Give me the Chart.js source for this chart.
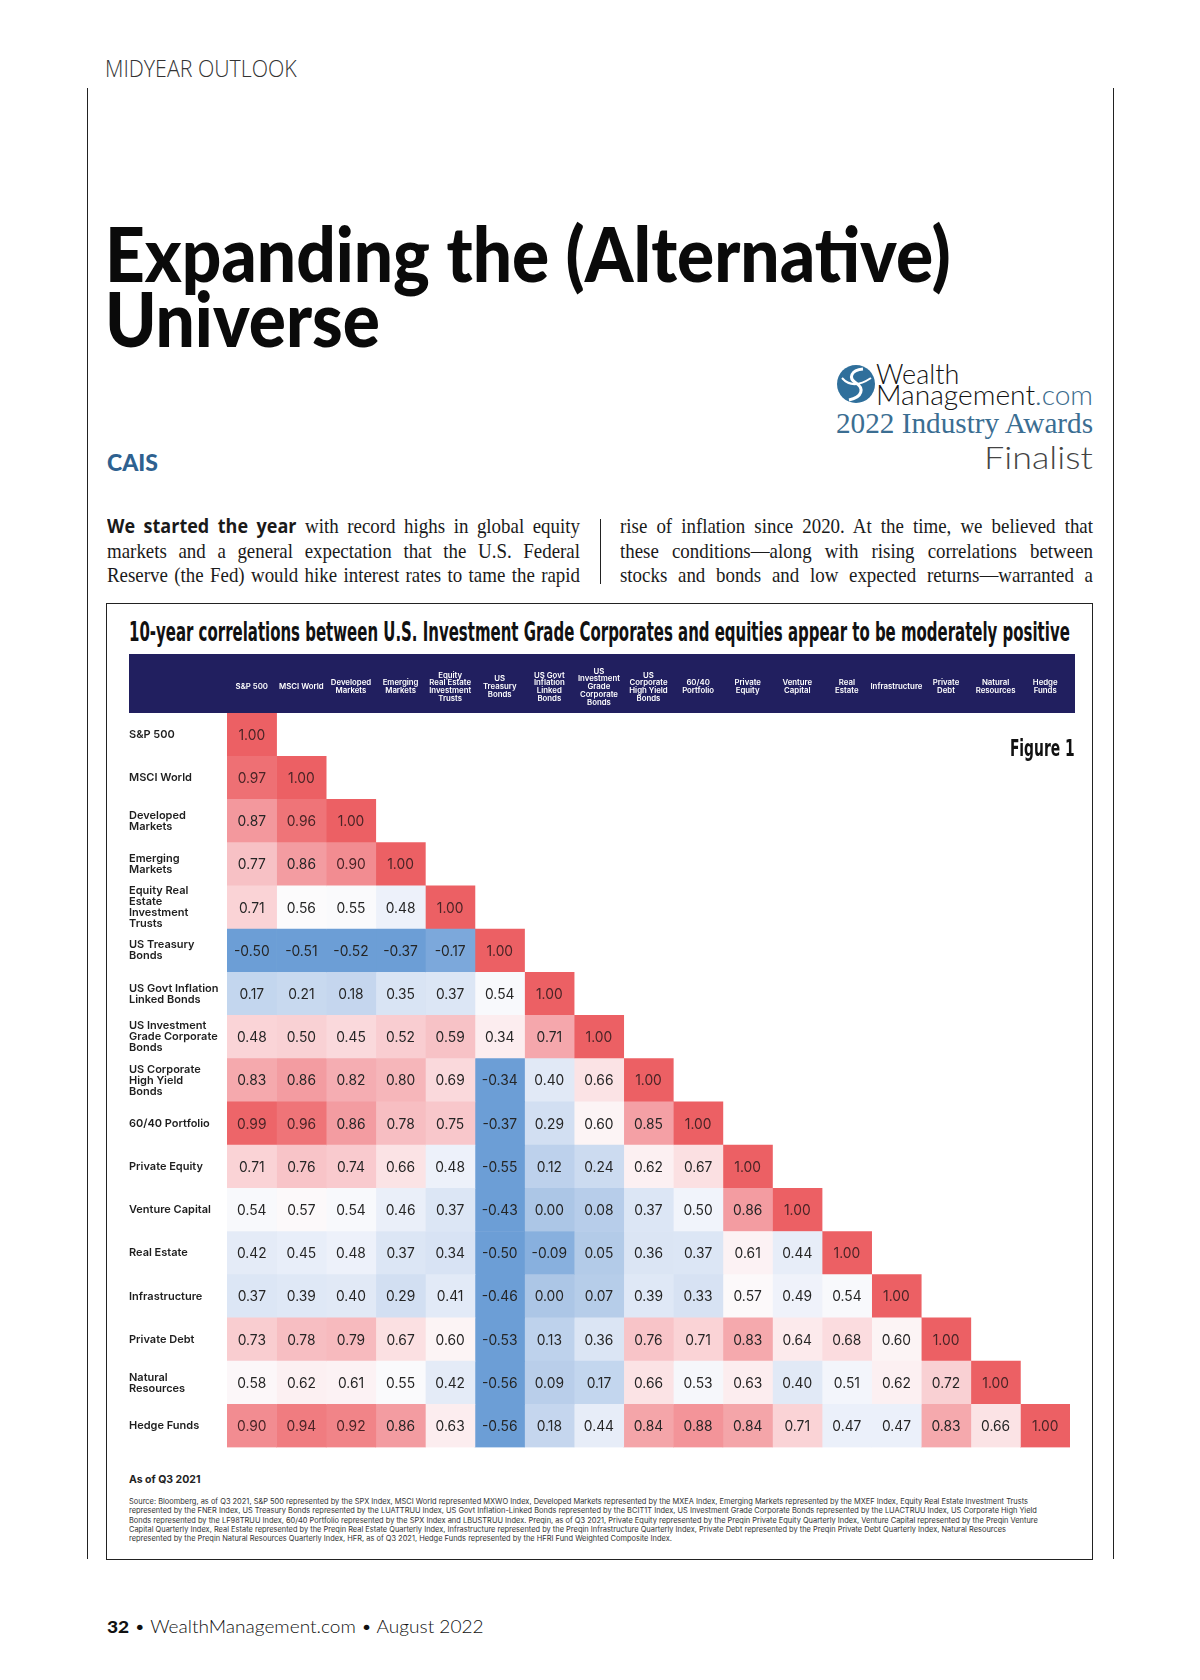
<!DOCTYPE html>
<html>
<head>
<meta charset="utf-8">
<script src="https://cdn.jsdelivr.net/npm/chart.js@4.4.1/dist/chart.umd.min.js"></script>
<style>
  body { margin: 0; background: #fff; }
  #page { position: relative; width: 1200px; height: 1680px; overflow: hidden; background: #fff; color: #111; }
  .abs { position: absolute; white-space: nowrap; line-height: 1; }
  .fit { transform-origin: left top; }
  .fitr { transform-origin: right top; }
  .vline { position: absolute; width: 1px; background: #222; }
  .col { position: absolute; top: 514px; font-family: "Liberation Serif", serif; font-size: 21px; line-height: 24.6px; color: #1a1a1a; transform-origin: left top; }
  .ln { text-align: justify; text-align-last: justify; white-space: nowrap; display: inline-block; }
  .lead { font-family: "Open Sans", sans-serif; font-weight: 700; font-size: 20px; }
  .src { position: absolute; left: 129px; top: 1497px; font-family: Inter, sans-serif; font-size: 7.6px; line-height: 9.25px; color: #333; transform-origin: left top; }
  .src div { white-space: nowrap; }
</style>
</head>
<body>
<div id="page">
  <div class="abs fit" data-w="192" style="left:105px;top:56px;font-family:'Open Sans',sans-serif;font-weight:300;font-size:24px;color:#333;">MIDYEAR OUTLOOK</div>

  <div class="vline" style="left:87px;top:88px;height:1471px;"></div>
  <div class="vline" style="left:1113px;top:88px;height:1471px;"></div>

  <div id="t1" class="abs fit" data-w="846" style="left:105px;top:215px;font-family:Lato,sans-serif;font-weight:900;font-size:76px;color:#0a0a0a;">Expanding the (Alternative)</div>
  <div id="t2" class="abs fit" style="left:105px;top:280px;font-family:Lato,sans-serif;font-weight:900;font-size:76px;color:#0a0a0a;">Universe</div>

  <div class="abs" style="left:107px;top:451px;font-family:Lato,sans-serif;font-weight:900;font-size:23px;color:#2e6190;">CAIS</div>

  <svg class="abs" style="left:836px;top:363px" width="40" height="42" viewBox="0 0 40 42">
    <circle cx="20" cy="21" r="19" fill="#2f6f9b"/>
    <path d="M27 6 C15 7 12 15 20 20 C28 25 27 34 13 37" stroke="#fff" stroke-width="3" fill="none"/>
    <path d="M6 15 C13 23 23 23 35 15" stroke="#fff" stroke-width="2" fill="none"/>
  </svg>
  <div class="abs fit" data-w="83" style="left:876px;top:360px;font-family:Lato,sans-serif;font-weight:300;font-size:27px;color:#111;">Wealth</div>
  <div class="abs fit" data-w="217" style="left:876px;top:381px;font-family:Lato,sans-serif;font-weight:300;font-size:27px;color:#111;">Management<span style="color:#3b6b8c">.com</span></div>
  <div class="abs fitr" data-w="257" style="right:107px;top:409px;font-family:'Liberation Serif',serif;font-size:29px;color:#3b6e92;">2022 Industry Awards</div>
  <div class="abs fitr" data-w="109" style="right:107px;top:442px;font-family:Lato,sans-serif;font-weight:300;font-size:31px;color:#444;">Finalist</div>

  <div class="col" id="col1" data-w="473" style="left:107px;">
    <div class="ln"><span class="lead">We started the year</span> with record highs in global equity</div>
    <div class="ln">markets and a general expectation that the U.S. Federal</div>
    <div class="ln">Reserve (the Fed) would hike interest rates to tame the rapid</div>
  </div>
  <div class="vline" style="left:600px;top:519px;height:65px;"></div>
  <div class="col" id="col2" data-w="473" style="left:620px;">
    <div class="ln">rise of inflation since 2020. At the time, we believed that</div>
    <div class="ln">these conditions—along with rising correlations between</div>
    <div class="ln">stocks and bonds and low expected returns—warranted a</div>
  </div>

  <div style="position:absolute;left:106px;top:603px;width:987px;height:957px;border:1px solid #222;box-sizing:border-box;"></div>
  <div class="abs fit" data-w="941" style="left:129px;top:619px;font-family:'DejaVu Sans Condensed','DejaVu Sans',sans-serif;font-weight:700;font-size:26px;color:#111;">10-year correlations between U.S. Investment Grade Corporates and equities appear to be moderately positive</div>

  <div style="position:absolute;left:129px;top:654px;width:946px;height:799px;">
    <canvas id="chart" width="946" height="799"></canvas>
  </div>

  <div class="abs fitr" data-w="65" style="right:125px;top:737px;font-family:'DejaVu Sans Condensed','DejaVu Sans',sans-serif;font-weight:700;font-size:23px;color:#111;">Figure 1</div>

  <div class="abs" style="left:129px;top:1475px;font-family:Inter,sans-serif;font-weight:700;font-size:10.5px;color:#222;">As of Q3 2021</div>
  <div class="src" id="src" data-w="909">
    <div>Source: Bloomberg, as of Q3 2021, S&amp;P 500 represented by the SPX Index, MSCI World represented MXWO Index, Developed Markets represented by the MXEA Index, Emerging Markets represented by the MXEF Index, Equity Real Estate Investment Trusts</div>
    <div>represented by the FNER Index, US Treasury Bonds represented by the LUATTRUU Index, US Govt Inflation-Linked Bonds represented by the BCIT1T Index, US Investment Grade Corporate Bonds represented by the LUACTRUU Index, US Corporate High Yield</div>
    <div>Bonds represented by the LF98TRUU Index, 60/40 Portfolio represented by the SPX Index and LBUSTRUU Index. Preqin, as of Q3 2021, Private Equity represented by the Preqin Private Equity Quarterly Index, Venture Capital represented by the Preqin Venture</div>
    <div>Capital Quarterly Index, Real Estate represented by the Preqin Real Estate Quarterly Index, Infrastructure represented by the Preqin Infrastructure Quarterly Index, Private Debt represented by the Preqin Private Debt Quarterly Index, Natural Resources</div>
    <div>represented by the Preqin Natural Resources Quarterly Index, HFR, as of Q3 2021, Hedge Funds represented by the HFRI Fund Weighted Composite Index.</div>
  </div>

  <div class="abs fit" data-w="377" style="left:107px;top:1618px;font-family:Lato,sans-serif;font-weight:300;font-size:17px;color:#111;"><b style="font-weight:900">32</b> • WealthManagement.com • August 2022</div>
</div>

<script>
// asset classes, used for both axes
const colLabels = [
  "S&P 500", "MSCI World", ["Developed", "Markets"], ["Emerging", "Markets"],
  ["Equity", "Real Estate", "Investment", "Trusts"], ["US", "Treasury", "Bonds"],
  ["US Govt", "Inflation", "Linked", "Bonds"], ["US", "Investment", "Grade", "Corporate", "Bonds"],
  ["US", "Corporate", "High Yield", "Bonds"], ["60/40", "Portfolio"], ["Private", "Equity"],
  ["Venture", "Capital"], ["Real", "Estate"], "Infrastructure", ["Private", "Debt"],
  ["Natural", "Resources"], ["Hedge", "Funds"]
];
const rowLabels = [
  "S&P 500", "MSCI World", ["Developed", "Markets"], ["Emerging", "Markets"],
  ["Equity Real", "Estate", "Investment", "Trusts"], ["US Treasury", "Bonds"],
  ["US Govt Inflation", "Linked Bonds"], ["US Investment", "Grade Corporate", "Bonds"],
  ["US Corporate", "High Yield", "Bonds"], "60/40 Portfolio", "Private Equity",
  "Venture Capital", "Real Estate", "Infrastructure", "Private Debt",
  ["Natural", "Resources"], "Hedge Funds"
];

// lower triangle, one row per asset class
const sp500 = [1.00];
const msciWorld = [0.97, 1.00];
const developed = [0.87, 0.96, 1.00];
const emerging = [0.77, 0.86, 0.90, 1.00];
const reits = [0.71, 0.56, 0.55, 0.48, 1.00];
const treasury = [-0.50, -0.51, -0.52, -0.37, -0.17, 1.00];
const tips = [0.17, 0.21, 0.18, 0.35, 0.37, 0.54, 1.00];
const igCorp = [0.48, 0.50, 0.45, 0.52, 0.59, 0.34, 0.71, 1.00];
const highYield = [0.83, 0.86, 0.82, 0.80, 0.69, -0.34, 0.40, 0.66, 1.00];
const sixtyForty = [0.99, 0.96, 0.86, 0.78, 0.75, -0.37, 0.29, 0.60, 0.85, 1.00];
const privEquity = [0.71, 0.76, 0.74, 0.66, 0.48, -0.55, 0.12, 0.24, 0.62, 0.67, 1.00];
const ventureCap = [0.54, 0.57, 0.54, 0.46, 0.37, -0.43, 0.00, 0.08, 0.37, 0.50, 0.86, 1.00];
const realEstate = [0.42, 0.45, 0.48, 0.37, 0.34, -0.50, -0.09, 0.05, 0.36, 0.37, 0.61, 0.44, 1.00];
const infra = [0.37, 0.39, 0.40, 0.29, 0.41, -0.46, 0.00, 0.07, 0.39, 0.33, 0.57, 0.49, 0.54, 1.00];
const privDebt = [0.73, 0.78, 0.79, 0.67, 0.60, -0.53, 0.13, 0.36, 0.76, 0.71, 0.83, 0.64, 0.68, 0.60, 1.00];
const natRes = [0.58, 0.62, 0.61, 0.55, 0.42, -0.56, 0.09, 0.17, 0.66, 0.53, 0.63, 0.40, 0.51, 0.62, 0.72, 1.00];
const hedgeFunds = [0.90, 0.94, 0.92, 0.86, 0.63, -0.56, 0.18, 0.44, 0.84, 0.88, 0.84, 0.71, 0.47, 0.47, 0.83, 0.66, 1.00];

const matrix = [sp500, msciWorld, developed, emerging, reits, treasury, tips, igCorp,
  highYield, sixtyForty, privEquity, ventureCap, realEstate, infra, privDebt, natRes, hedgeFunds];

const highlightRow = 7; // IG corporates row is tinted pink in the figure

const colorStops = [
  [-0.30, [108, 158, 214]],
  [-0.10, [132, 173, 221]],
  [0.00, [172, 198, 230]],
  [0.15, [193, 212, 237]],
  [0.35, [217, 228, 244]],
  [0.48, [237, 241, 250]],
  [0.56, [252, 251, 252]],
  [0.62, [252, 240, 242]],
  [0.70, [250, 214, 217]],
  [0.78, [247, 190, 194]],
  [0.87, [243, 152, 157]],
  [0.97, [238, 112, 116]],
  [1.00, [236, 96, 100]],
];

function scaleColor(v) {
  if (v <= colorStops[0][0]) return `rgb(${colorStops[0][1].join(",")})`;
  for (let k = 1; k < colorStops.length; k++) {
    const [v1, c1] = colorStops[k];
    if (v <= v1) {
      const [v0, c0] = colorStops[k - 1];
      const t = (v - v0) / (v1 - v0);
      const c = c0.map((x, i) => Math.round(x + (c1[i] - x) * t));
      return `rgb(${c.join(",")})`;
    }
  }
  return `rgb(${colorStops[colorStops.length - 1][1].join(",")})`;
}

function cellColor(v, i, j) {
  if (i === highlightRow && j < i) return scaleColor(0.63 + 0.55 * (v - 0.34));
  return scaleColor(v);
}

// squeeze text blocks to the widths they take in the print layout
function fitAll() {
  document.querySelectorAll("[data-w]").forEach((el) => {
    if (el.classList.contains("col") || el.id === "src") return;
    el.style.transform = `scaleX(${el.dataset.w / el.offsetWidth})`;
  });
  const t1 = document.getElementById("t1");
  document.getElementById("t2").style.transform = t1.style.transform;

  ["col1", "col2"].forEach((id) => {
    const col = document.getElementById(id);
    const w = +col.dataset.w;
    const lines = col.querySelectorAll(".ln");
    let maxW = 0;
    lines.forEach((l) => (maxW = Math.max(maxW, l.offsetWidth)));
    const s = Math.min(0.9, (w / maxW) * 0.99);
    col.style.width = w / s + "px";
    col.style.transform = `scaleX(${s})`;
    lines.forEach((l) => {
      l.style.display = "block";
      l.style.whiteSpace = "normal";
    });
  });

  const src = document.getElementById("src");
  let maxW = 0;
  src.querySelectorAll("div").forEach((d) => {
    d.style.display = "inline-block";
    maxW = Math.max(maxW, d.offsetWidth);
  });
  src.querySelectorAll("div").forEach((d) => (d.style.display = "block"));
  src.style.transform = `scaleX(${src.dataset.w / maxW})`;
}
fitAll();

const headerBand = {
  id: "headerBand",
  beforeDraw(chart) {
    const s = chart.scales.x2;
    const ctx = chart.ctx;
    ctx.save();
    ctx.fillStyle = "#211f5f";
    ctx.fillRect(0, s.top, chart.width, s.bottom - s.top);
    ctx.restore();
  },
};

const cellText = {
  id: "cellText",
  afterDatasetsDraw(chart) {
    const ctx = chart.ctx;
    ctx.save();
    ctx.font = "400 13.8px Inter, sans-serif";
    ctx.textAlign = "center";
    ctx.textBaseline = "middle";
    chart.data.datasets.forEach((ds, j) => {
      chart.getDatasetMeta(j).data.forEach((el, i) => {
        if (j > i) return;
        const v = matrix[i][j];
        const { x, y } = el.getCenterPoint();
        ctx.fillStyle = v >= 0.9 ? "#4a2426" : "#252525";
        ctx.fillText(v.toFixed(2), x, y + 1);
      });
    });
    ctx.restore();
  },
};

const datasets = colLabels.map((c, j) => ({
  label: Array.isArray(c) ? c.join(" ") : c,
  data: matrix.map((row, i) => (j <= i ? [j, j + 1] : null)),
  backgroundColor: matrix.map((row, i) => (j <= i ? cellColor(row[j], i, j) : "rgba(0,0,0,0)")),
  barPercentage: 1,
  categoryPercentage: 1,
  grouped: false,
  borderWidth: 0,
}));

const ctx = document.getElementById("chart").getContext("2d");
new Chart(ctx, {
  type: "bar",
  data: { labels: rowLabels, datasets },
  options: {
    indexAxis: "y",
    responsive: false,
    animation: false,
    layout: { padding: { right: 5 } },
    plugins: { legend: { display: false }, tooltip: { enabled: false } },
    scales: {
      x: { type: "linear", min: 0, max: colLabels.length, display: false },
      x2: {
        type: "category",
        position: "top",
        labels: colLabels,
        offset: true,
        grid: { display: false, drawTicks: false },
        border: { display: false },
        ticks: {
          color: "#ffffff",
          font: { family: "Inter, sans-serif", size: 7.8, weight: "600", lineHeight: 1.02 },
          maxRotation: 0,
          autoSkip: false,
          crossAlign: "center",
          padding: 10,
        },
        afterFit: (s) => { s.height = 59; },
      },
      y: {
        type: "category",
        grid: { display: false, drawTicks: false },
        border: { display: false },
        ticks: {
          color: "#1e1e1e",
          font: { family: "Inter, sans-serif", size: 11, weight: "600", lineHeight: 1.0 },
          crossAlign: "far",
          autoSkip: false,
          padding: 0,
        },
        afterFit: (s) => { s.width = 98; },
      },
    },
  },
  plugins: [headerBand, cellText],
});
</script>
</body>
</html>
